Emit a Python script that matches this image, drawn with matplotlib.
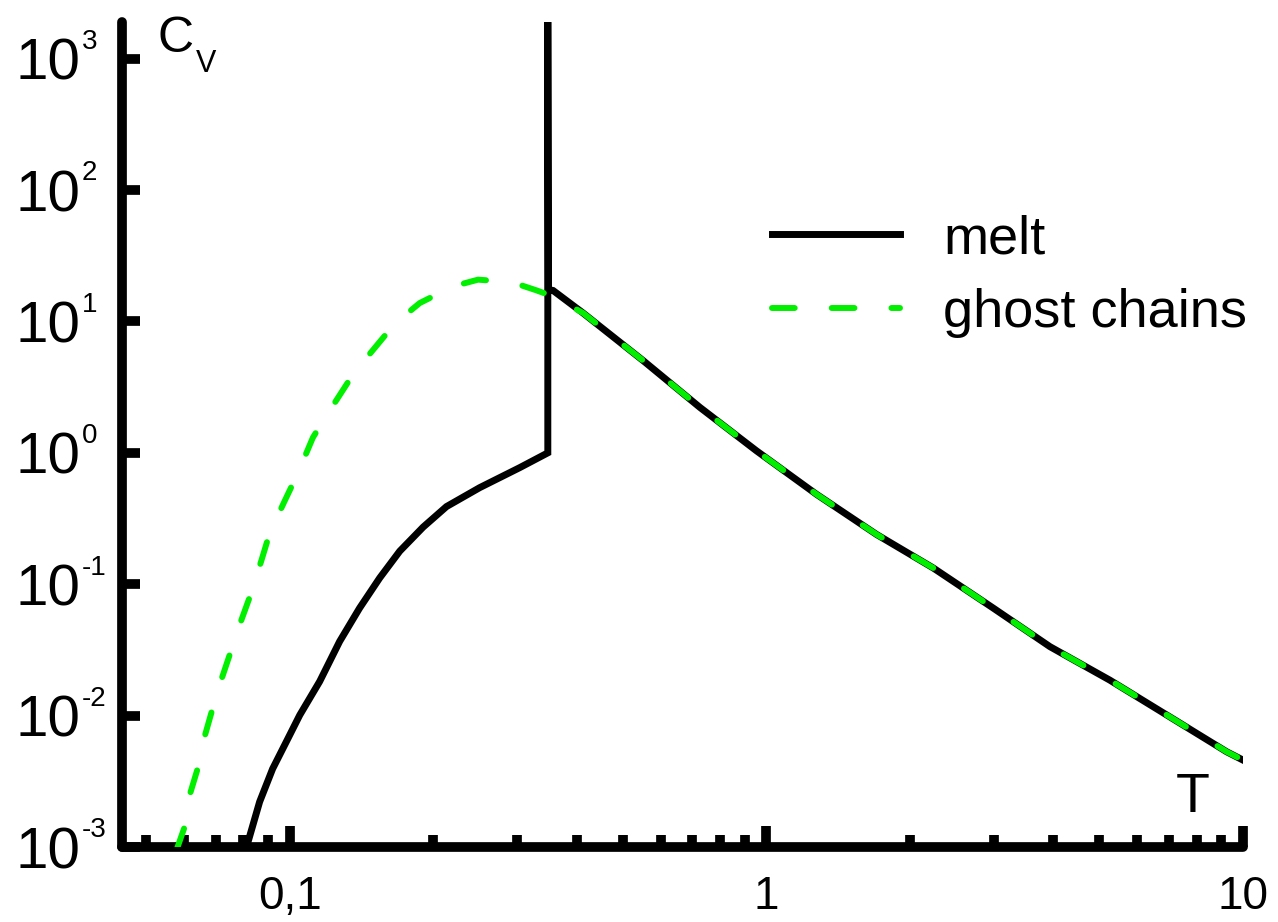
import numpy as np
import matplotlib
matplotlib.use("Agg")
import matplotlib.pyplot as plt
from matplotlib.ticker import LogLocator, NullFormatter, NullLocator

plt.rcParams["font.family"] = ["Liberation Sans", "DejaVu Sans"]

# specific heat of the melt: smooth rise, first-order jump at T_c, then the high-T tail
T_melt = [0.0812, 0.0865, 0.0921, 0.0992, 0.105, 0.1156, 0.1273, 0.1402, 0.1545,
          0.1702, 0.1905, 0.2133, 0.2504, 0.3039, 0.348, 0.348, 0.349, 0.357,
          0.4125, 0.5514, 0.7253, 0.9537, 1.274, 1.703, 2.239, 2.992, 3.936,
          5.260, 7.028, 9.243, 10.0]
C_melt = [0.00100, 0.00221, 0.00394, 0.00671, 0.0101, 0.0182, 0.0367, 0.0659, 0.1117,
          0.1786, 0.272, 0.390, 0.5434, 0.772, 1.0, 1900.0, 17.5, 17.2,
          11.6, 5.04, 2.22, 1.036, 0.484, 0.2394, 0.1331, 0.0659, 0.0335,
          0.0186, 0.00977, 0.00531, 0.00459]

# ghost chains: Schottky-like hump, no transition
T_ghost = [0.0579, 0.0602, 0.0617, 0.0641, 0.0663, 0.0689, 0.0720, 0.0755, 0.0793,
           0.0833, 0.0874, 0.0908, 0.0976, 0.1039, 0.1119, 0.1194, 0.1325, 0.1449,
           0.1661, 0.1874, 0.2202, 0.2484, 0.2919, 0.3294, 0.357, 0.4125, 0.5514,
           0.7253, 0.9537, 1.274, 1.703, 2.239, 2.992, 3.936, 5.260, 7.028,
           9.243, 10.0]
C_ghost = [0.00095, 0.00142, 0.00249, 0.00394, 0.00691, 0.0113, 0.0191, 0.0319, 0.0541,
           0.0885, 0.155, 0.245, 0.430, 0.692, 1.309, 1.916, 3.44, 5.28,
           9.60, 13.8, 18.5, 20.8, 19.95, 17.25, 15.5, 11.6, 5.04,
           2.22, 1.036, 0.484, 0.2394, 0.1331, 0.0659, 0.0335, 0.0186, 0.00977,
           0.00531, 0.00459]

x_ticks = [0.1, 1, 10]
x_labels = ["0,1", "1", "10"]
y_exps = [-3, -2, -1, 0, 1, 2, 3]

fig = plt.figure(figsize=(12.78, 9.22), dpi=100)
ax = fig.add_axes([0.0955, 0.0813, 0.8771, 0.8948])

ax.plot(T_melt, C_melt, color="black", lw=5, solid_joinstyle="miter",
        label="melt", zorder=3)
ax.plot(T_ghost, C_ghost, color="#00f000", lw=4.3, dashes=(3.8, 6.2),
        dash_capstyle="round", label="ghost chains", zorder=4)

ax.set_xscale("log")
ax.set_yscale("log")
ax.set_xlim(0.0445, 10)
ax.set_ylim(1e-3, 1.9e3)

ax.set_xticks(x_ticks, labels=x_labels)
ax.xaxis.set_minor_locator(LogLocator(base=10, subs=np.arange(2, 10)))
ax.xaxis.set_minor_formatter(NullFormatter())

# y labels: "10" as the tick label, exponent as a small raised text next to it
ax.set_yticks([10.0 ** e for e in y_exps], labels=["10"] * len(y_exps))
ax.yaxis.set_minor_locator(NullLocator())
for e in y_exps:
    ax.annotate(str(e), xy=(0, 10.0 ** e), xycoords=ax.get_yaxis_transform(),
                xytext=(-29, 7), textcoords="offset points", fontsize=20,
                ha="left", va="baseline", annotation_clip=False)

ax.tick_params(axis="x", which="major", direction="in", length=15, width=7,
               labelsize=33, pad=20)
ax.tick_params(axis="x", which="minor", direction="in", length=9, width=7)
ax.tick_params(axis="y", which="major", direction="in", length=13, width=7,
               labelsize=42, pad=30)

for side in ("top", "right"):
    ax.spines[side].set_visible(False)
for side in ("left", "bottom"):
    ax.spines[side].set_linewidth(7)
    ax.spines[side].set_capstyle("round")

# axis names sit inside the frame
ax.text(0.0317, 0.9636, "C", transform=ax.transAxes, fontsize=36,
        ha="left", va="baseline")
ax.text(0.066, 0.9394, "V", transform=ax.transAxes, fontsize=22,
        ha="left", va="baseline")
ax.text(0.955, 0.042, "T", transform=ax.transAxes,
        fontsize=40, ha="center", va="baseline")

ax.legend(loc="upper left", bbox_to_anchor=(0.58, 0.767), frameon=False,
          fontsize=39, handlelength=2.36, handletextpad=0.8, labelspacing=0.43,
          borderpad=0, borderaxespad=0)

fig.savefig("out.png", dpi=100)
